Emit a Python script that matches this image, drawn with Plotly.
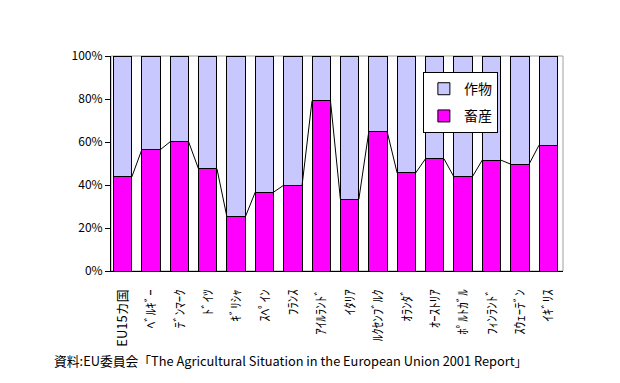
import plotly.graph_objects as go

categories = ["EU15カ国", "ﾍﾞﾙｷﾞｰ", "ﾃﾞﾝﾏｰｸ", "ﾄﾞｲﾂ", "ｷﾞﾘｼｬ", "ｽﾍﾟｲﾝ", "ﾌﾗﾝｽ", "ｱｲﾙﾗﾝﾄﾞ",
              "ｲﾀﾘｱ", "ﾙｸｾﾝﾌﾞﾙｸ", "ｵﾗﾝﾀﾞ", "ｵｰｽﾄﾘｱ", "ﾎﾟﾙﾄｶﾞﾙ", "ﾌｨﾝﾗﾝﾄﾞ", "ｽｳｪｰﾃﾞﾝ", "ｲｷﾞﾘｽ"]
livestock = [43.8, 56.4, 60.1, 47.5, 25.2, 36.7, 39.9, 79.2,
             33.4, 64.7, 45.6, 52.2, 43.8, 51.6, 49.7, 58.5]
crops = [100 - v for v in livestock]
y_ticks = [0, 20, 40, 60, 80, 100]
y_tick_labels = [f"{t}%" for t in y_ticks]
caption = "資料:EU委員会「The Agricultural Situation in the European Union 2001 Report」"

FONT = "Noto Sans CJK JP"
MAGENTA = "#FF00FF"
LAVENDER = "#C8C8FF"
BARGAP = 0.35
half = (1 - BARGAP) / 2

xs = list(range(len(categories)))

fig = go.Figure()
fig.add_trace(go.Bar(x=xs, y=livestock, name="畜産", legendrank=2, legendgroup="livestock",
                     marker=dict(color=MAGENTA, line=dict(color="black", width=1))))
fig.add_trace(go.Bar(x=xs, y=crops, name="作物", legendrank=1, legendgroup="crops",
                     marker=dict(color=LAVENDER, line=dict(color="black", width=1))))

# series lines connecting stacked boundaries
lx, ly = [], []
for i in range(len(xs) - 1):
    lx += [xs[i] + half, xs[i + 1] - half, None]
    ly += [livestock[i], livestock[i + 1], None]
fig.add_trace(go.Scatter(x=lx, y=ly, mode="lines", showlegend=False,
                         line=dict(color="black", width=1), hoverinfo="skip"))

fig.add_shape(type="rect", xref="paper", yref="paper", x0=0, x1=1, y0=0, y1=1,
              line=dict(color="#A0A0A0", width=1), layer="below")

fig.update_layout(
    width=612, height=375,
    margin=dict(l=103, r=57, t=48, b=112),
    paper_bgcolor="white", plot_bgcolor="white",
    barmode="stack", bargap=BARGAP,
    font=dict(family=FONT, size=11, color="black"),
    showlegend=True,
    legend=dict(x=0.69, y=0.925, xanchor="left", yanchor="top",
                bordercolor="black", borderwidth=1, bgcolor="white",
                font=dict(size=14, family=FONT), traceorder="grouped",
                itemwidth=30, tracegroupgap=6),
    xaxis=dict(range=[-0.41, 15.52], tickmode="array", tickvals=xs, ticktext=categories,
               tickangle=-90, ticks="", showline=True, linecolor="black", linewidth=1,
               showgrid=False, zeroline=False, ticklabelstandoff=12,
               tickfont=dict(size=13, family=FONT)),
    yaxis=dict(range=[0, 100], tickmode="array", tickvals=y_ticks, ticktext=y_tick_labels,
               ticks="outside", ticklen=5, tickcolor="black", showline=True,
               linecolor="black", linewidth=1, showgrid=False, zeroline=False,
               tickfont=dict(size=12, family=FONT)),
)

fig.add_annotation(text=caption, xref="paper", yref="paper", x=-0.13, y=-0.415,
                   xanchor="left", yanchor="middle", showarrow=False,
                   font=dict(size=12.8, family=FONT))

fig.write_html("out.html")
